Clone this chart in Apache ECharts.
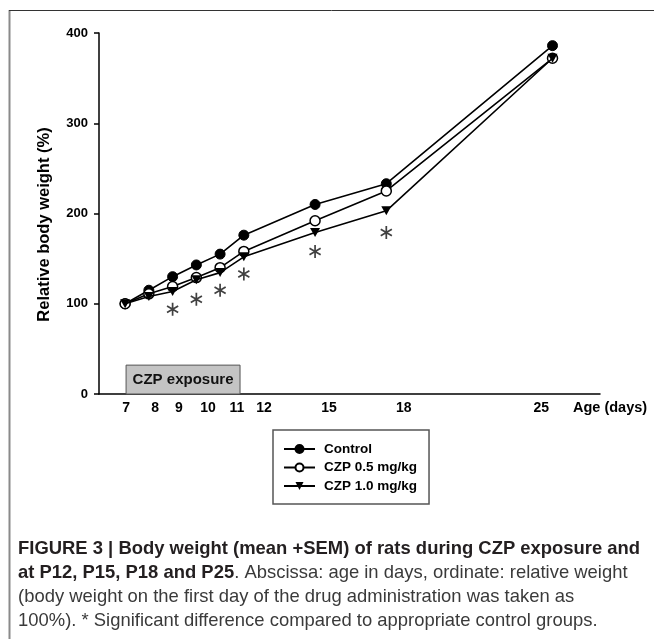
<!DOCTYPE html>
<html>
<head>
<meta charset="utf-8">
<script src="https://cdn.jsdelivr.net/npm/echarts@6/dist/echarts.min.js"></script>
<style>
html,body{margin:0;padding:0;background:#fff;}
#chart{width:654px;height:639px;}
</style>
</head>
<body>
<div id="chart"></div>
<script>
// ---- data ----
const days = [7, 8, 9, 10, 11, 12, 15, 18, 25];
const controlValues = [100, 115, 130, 143, 155, 176, 210, 233, 386];
const czp05Values = [100, 111, 119, 129, 140, 158, 192, 225, 372];
const czp10Values = [100, 108, 113.5, 126.5, 134.5, 152, 179, 203, 372];
const sigDays = [9, 10, 11, 12, 15, 18];
const sigValues = [94, 105, 115, 133, 158, 179];
const xTickLabels = ['7', '8', '9', '10', '11', '12', '15', '18', '25'];
const xTickLabelAt = [7.04, 8.26, 9.27, 10.49, 11.71, 12.85, 15.59, 18.74, 24.53];
const seriesNames = ['Control', 'CZP 0.5 mg/kg', 'CZP 1.0 mg/kg'];
const exposureLabel = 'CZP exposure';
const exposureRange = [7.04, 11.84];
const exposureHeight = 32;
const xAxisName = 'Age (days)';
const yAxisName = 'Relative body weight (%)';
const captionLines = [
  [['b', 'FIGURE 3 | Body weight (mean +SEM) of rats during CZP exposure and']],
  [['b', 'at P12, P15, P18 and P25'], ['r', '. Abscissa: age in days, ordinate: relative weight']],
  [['r', '(body weight on the first day of the drug administration was taken as']],
  [['r', '100%). * Significant difference compared to appropriate control groups.']]
];

const FONT = 'Liberation Sans, Arial, Helvetica, sans-serif';
const pairs = vals => days.map((d, i) => [d, vals[i]]);
const triDown = 'path://M0,0L10,0L5,9Z';
const asterisk = 'path://M-0.8,-6L0.8,-6L0.8,6L-0.8,6Z M-5.596,-2.307L-4.796,-3.693L5.596,2.307L4.796,3.693Z M4.796,-3.693L5.596,-2.307L-4.796,3.693L-5.596,2.307Z';

const chart = echarts.init(document.getElementById('chart'), null, {renderer: 'canvas'});

const captionGraphics = captionLines.map((segs, i) => ({
  type: 'text',
  left: 18,
  top: 539 + i * 24,
  scaleX: 0.97,
  style: {
    text: segs.map(s => '{' + s[0] + '|' + s[1] + '}').join(''),
    rich: {
      b: {fontFamily: FONT, fontWeight: 'bold', fontSize: 19, fill: '#231f20'},
      r: {fontFamily: FONT, fontWeight: 'normal', fontSize: 19, fill: '#3a3a3a'}
    }
  }
}));

const option = {
  backgroundColor: '#fff',
  animation: false,
  grid: {left: 99, right: 54, top: 33, bottom: 245, containLabel: false},
  legend: {
    orient: 'vertical',
    left: 273,
    top: 430,
    padding: [12, 12, 11, 10],
    itemGap: 4.5,
    itemWidth: 31,
    itemHeight: 10,
    borderColor: '#555',
    borderWidth: 1.5,
    data: seriesNames,
    textStyle: {fontFamily: FONT, fontWeight: 'bold', fontSize: 13.5, color: '#000', padding: [0, 0, 0, 4], lineHeight: 14}
  },
  xAxis: {
    type: 'value',
    min: 5.9,
    max: 27,
    axisLine: {lineStyle: {color: '#000', width: 1.5}},
    axisTick: {show: false},
    splitLine: {show: false},
    axisLabel: {
      customValues: xTickLabelAt,
      formatter: v => {
        const i = xTickLabelAt.findIndex(p => Math.abs(p - v) < 1e-6);
        return i >= 0 ? xTickLabels[i] : '';
      },
      fontFamily: FONT, fontWeight: 'bold', fontSize: 14, color: '#000', margin: 7
    },
    name: xAxisName,
    nameLocation: 'end',
    nameGap: -27,
    nameTextStyle: {fontFamily: FONT, fontWeight: 'bold', fontSize: 14.5, color: '#000', align: 'left', verticalAlign: 'top', lineHeight: 28}
  },
  yAxis: {
    type: 'value',
    min: 0,
    max: 400,
    interval: 100,
    axisLine: {show: true, lineStyle: {color: '#000', width: 1.5}},
    axisTick: {show: true, length: 5, lineStyle: {color: '#000', width: 1.5}},
    splitLine: {show: false},
    axisLabel: {fontFamily: FONT, fontWeight: 'bold', fontSize: 13, color: '#000', margin: 11},
    name: yAxisName,
    nameLocation: 'middle',
    nameGap: 46,
    nameTextStyle: {fontFamily: FONT, fontWeight: 'bold', fontSize: 16.5, color: '#000', padding: [0, 22, 0, 0]}
  },
  series: [
    {
      name: seriesNames[0], type: 'line', data: pairs(controlValues),
      symbol: 'circle', symbolSize: 10,
      lineStyle: {color: '#000', width: 1.6},
      itemStyle: {color: '#000', borderColor: '#000', borderWidth: 1},
      z: 3
    },
    {
      name: seriesNames[1], type: 'line', data: pairs(czp05Values),
      symbol: 'circle', symbolSize: 10,
      lineStyle: {color: '#000', width: 1.6},
      itemStyle: {color: '#fff', borderColor: '#000', borderWidth: 1.5},
      z: 4
    },
    {
      name: seriesNames[2], type: 'line', data: pairs(czp10Values),
      symbol: triDown, symbolSize: [10, 9],
      lineStyle: {color: '#000', width: 1.6},
      itemStyle: {color: '#000'},
      z: 5
    },
    {
      name: 'significance', type: 'scatter', data: sigDays.map((d, i) => [d, sigValues[i]]),
      symbol: asterisk, symbolSize: [12, 13],
      itemStyle: {color: '#111'},
      silent: true,
      markArea: {
        silent: true,
        itemStyle: {color: '#c4c4c4', borderColor: '#555', borderWidth: 1},
        label: {show: true, position: 'inside', formatter: exposureLabel, fontFamily: FONT, fontWeight: 'bold', fontSize: 15, color: '#111'},
        data: [[{xAxis: exposureRange[0], yAxis: 0}, {xAxis: exposureRange[1], yAxis: exposureHeight}]]
      }
    }
  ],
  graphic: [
    {type: 'line', shape: {x1: 9.5, y1: 10, x2: 9.5, y2: 639}, style: {stroke: '#8a8a8a', lineWidth: 2}, silent: true},
    {type: 'line', shape: {x1: 9, y1: 10.5, x2: 654, y2: 10.5}, style: {stroke: '#333', lineWidth: 1}, silent: true}
  ].concat(captionGraphics)
};
chart.setOption(option);
</script>
</body>
</html>
